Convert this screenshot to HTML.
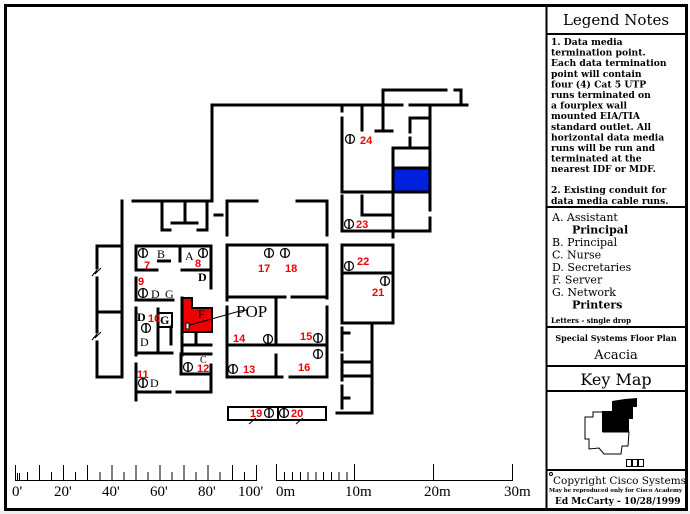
<!DOCTYPE html>
<html><head><meta charset="utf-8"><style>
html,body{margin:0;padding:0;background:#fff;width:690px;height:514px;overflow:hidden}
svg{display:block}
.s{font-family:"Liberation Serif",serif}
.d{font-family:"DejaVu Serif","Liberation Serif",serif}
.r{font-family:"Liberation Sans",sans-serif;font-weight:bold;fill:#e00;font-size:11px}
.l{font-family:"DejaVu Serif","Liberation Serif",serif;font-size:11px}
</style></head><body>
<svg width="690" height="514" viewBox="0 0 690 514" xmlns="http://www.w3.org/2000/svg">
<rect x="0" y="511" width="690" height="3" fill="#eee"/>
<rect x="5.5" y="5.5" width="681" height="504" fill="none" stroke="#000" stroke-width="3"/>
<line x1="546.5" y1="5" x2="546.5" y2="510" stroke="#000" stroke-width="2"/>
<g stroke="#000" stroke-width="2">
<line x1="546" y1="34" x2="687" y2="34"/>
<line x1="546" y1="207" x2="687" y2="207"/>
<line x1="546" y1="327" x2="687" y2="327"/>
<line x1="546" y1="366" x2="687" y2="366"/>
<line x1="546" y1="391" x2="687" y2="391"/>
<line x1="546" y1="470" x2="687" y2="470"/>
</g>
<text x="616" y="25" text-anchor="middle" class="d" font-size="15">Legend Notes</text>
<g class="d" font-size="9.2" font-weight="bold">
<text x="551" y="45">1. Data media</text>
<text x="551" y="55.6">termination point.</text>
<text x="551" y="66.2">Each data termination</text>
<text x="551" y="76.8">point will contain</text>
<text x="551" y="87.4">four (4) Cat 5 UTP</text>
<text x="551" y="98">runs terminated on</text>
<text x="551" y="108.6">a fourplex wall</text>
<text x="551" y="119.2">mounted EIA/TIA</text>
<text x="551" y="129.8">standard outlet. All</text>
<text x="551" y="140.4">horizontal data media</text>
<text x="551" y="151">runs will be run and</text>
<text x="551" y="161.6">terminated at the</text>
<text x="551" y="172.2">nearest IDF or MDF.</text>
<text x="551" y="193">2. Existing conduit for</text>
<text x="551" y="204">data media cable runs.</text>
</g>
<g class="l">
<text x="552" y="221">A.  Assistant</text>
<text x="572" y="233.5" font-weight="bold">Principal</text>
<text x="552" y="246">B.  Principal</text>
<text x="552" y="258.5">C.  Nurse</text>
<text x="552" y="271">D.  Secretaries</text>
<text x="552" y="283.5">F.  Server</text>
<text x="552" y="296">G.  Network</text>
<text x="572" y="308.5" font-weight="bold">Printers</text>
</g>
<text x="551" y="323" class="d" font-size="7" font-weight="bold">Letters  -  single drop</text>
<text x="616" y="341" text-anchor="middle" class="d" font-size="8" font-weight="bold">Special Systems Floor Plan</text>
<text x="616" y="359" text-anchor="middle" class="d" font-size="13">Acacia</text>
<text x="616" y="385" text-anchor="middle" class="d" font-size="16">Key Map</text>
<polygon points="585,417 593,417 593,412 603,412 603,432 629,432 628,446 622,446 621,454 604,454 599,448 589,449 589,439 585,439" fill="#fff" stroke="#000" stroke-width="1"/>
<polygon points="602,411 612,411 612,401 625,399 637,398 637,407 633,407 633,419 629,419 629,432 602,432" fill="#000"/>
<g fill="none" stroke="#000" stroke-width="1"><rect x="626.5" y="459.5" width="5" height="7"/><rect x="632.5" y="459.5" width="5" height="7"/><rect x="638.5" y="459.5" width="5" height="7"/></g>
<circle cx="551" cy="474" r="1.5" fill="none" stroke="#000"/>
<text x="553" y="484" class="d" font-size="10.5">Copyright Cisco Systems</text>
<text x="549" y="492" class="d" font-size="5.5" font-weight="bold">May be reproduced only for Cisco Academy</text>
<text x="555" y="504" class="d" font-size="9" font-weight="bold">Ed McCarty  -  10/28/1999</text>
<g stroke="#000" stroke-width="1">
<line x1="15" y1="480.5" x2="257" y2="480.5"/>
<line x1="15.5" y1="465" x2="15.5" y2="480"/><line x1="39.5" y1="465" x2="39.5" y2="480"/><line x1="63.5" y1="465" x2="63.5" y2="480"/><line x1="87.5" y1="465" x2="87.5" y2="480"/><line x1="112" y1="465" x2="112" y2="480"/><line x1="136" y1="465" x2="136" y2="480"/><line x1="160" y1="465" x2="160" y2="480"/><line x1="184" y1="465" x2="184" y2="480"/><line x1="208" y1="465" x2="208" y2="480"/><line x1="232.5" y1="465" x2="232.5" y2="480"/><line x1="256.5" y1="465" x2="256.5" y2="480"/>
<line x1="27.5" y1="472" x2="27.5" y2="480"/><line x1="51.5" y1="472" x2="51.5" y2="480"/><line x1="75.5" y1="472" x2="75.5" y2="480"/><line x1="100" y1="472" x2="100" y2="480"/><line x1="124" y1="472" x2="124" y2="480"/><line x1="148" y1="472" x2="148" y2="480"/><line x1="172" y1="472" x2="172" y2="480"/><line x1="196" y1="472" x2="196" y2="480"/><line x1="220" y1="472" x2="220" y2="480"/><line x1="244.5" y1="472" x2="244.5" y2="480"/>
<line x1="17.5" y1="473" x2="17.5" y2="480"/><line x1="19.5" y1="473" x2="19.5" y2="480"/>
<line x1="276" y1="480.5" x2="513" y2="480.5"/>
<line x1="276.5" y1="464" x2="276.5" y2="480"/><line x1="354.5" y1="464" x2="354.5" y2="480"/><line x1="433.5" y1="464" x2="433.5" y2="480"/><line x1="512.5" y1="464" x2="512.5" y2="480"/>
<line x1="284.5" y1="472" x2="284.5" y2="480"/><line x1="292.5" y1="472" x2="292.5" y2="480"/><line x1="300.5" y1="472" x2="300.5" y2="480"/><line x1="308" y1="472" x2="308" y2="480"/><line x1="316" y1="472" x2="316" y2="480"/><line x1="323.5" y1="472" x2="323.5" y2="480"/><line x1="331.5" y1="472" x2="331.5" y2="480"/><line x1="339" y1="472" x2="339" y2="480"/><line x1="347" y1="472" x2="347" y2="480"/>
</g>
<g class="s" font-size="15">
<text x="12" y="496">0'</text><text x="54" y="496">20'</text><text x="102" y="496">40'</text><text x="150" y="496">60'</text><text x="198" y="496">80'</text><text x="238" y="496">100'</text>
<text x="276" y="496">0m</text><text x="345" y="496">10m</text><text x="424" y="496">20m</text><text x="504" y="496">30m</text>
</g>
<polygon points="182,298 192,298 192,308 212,308 212,332 182,332" fill="#e00" stroke="#000" stroke-width="2"/>
<rect x="393" y="168" width="37" height="24" fill="#0020e0"/>
<g stroke="#000" stroke-width="3" fill="none" stroke-linecap="square">
<line x1="212" y1="105" x2="402" y2="105"/><line x1="410" y1="105" x2="467" y2="105"/>
<line x1="212" y1="105" x2="212" y2="201"/>
<line x1="383" y1="90" x2="446" y2="90"/><line x1="455" y1="90" x2="461" y2="90"/><line x1="461" y1="90" x2="461" y2="104"/>
<line x1="383" y1="90" x2="383" y2="130"/><line x1="362" y1="105" x2="362" y2="130"/><line x1="376" y1="131" x2="392" y2="131"/>
<line x1="133" y1="201" x2="212" y2="201"/><line x1="227" y1="201" x2="257" y2="201"/><line x1="297" y1="201" x2="327" y2="201"/>
<line x1="215" y1="215" x2="222" y2="215"/>
<line x1="227" y1="201" x2="227" y2="235"/><line x1="327" y1="201" x2="327" y2="235"/>
<line x1="162" y1="201" x2="162" y2="229"/><line x1="162" y1="230" x2="170" y2="230"/>
<line x1="172" y1="223" x2="197" y2="223"/><line x1="185" y1="201" x2="185" y2="223"/>
<line x1="207" y1="201" x2="207" y2="230"/><line x1="198" y1="230" x2="207" y2="230"/>
<line x1="122" y1="201" x2="122" y2="377"/>
<line x1="97" y1="246" x2="122" y2="246"/><line x1="97" y1="312" x2="122" y2="312"/><line x1="97" y1="377" x2="122" y2="377"/>
<line x1="97" y1="246" x2="97" y2="268"/><line x1="97" y1="278" x2="97" y2="332"/><line x1="97" y1="342" x2="97" y2="377"/>
<line x1="136" y1="246" x2="211" y2="246"/>
<line x1="136" y1="246" x2="136" y2="270"/><line x1="136" y1="278" x2="136" y2="300"/><line x1="136" y1="308" x2="136" y2="355"/><line x1="136" y1="364" x2="136" y2="400"/>
<line x1="136" y1="270" x2="157" y2="270"/><line x1="182" y1="270" x2="211" y2="270"/>
<line x1="180" y1="246" x2="180" y2="261"/>
<line x1="211" y1="246" x2="211" y2="288"/>
<line x1="136" y1="300" x2="173" y2="300"/>
<line x1="182" y1="298" x2="182" y2="355"/><line x1="196" y1="333" x2="196" y2="345"/><line x1="182" y1="345" x2="211" y2="345"/>
<line x1="158" y1="309" x2="158" y2="353"/><line x1="171" y1="327" x2="171" y2="344"/>
<line x1="136" y1="353" x2="172" y2="353"/>
<line x1="181" y1="354" x2="211" y2="354"/><line x1="181" y1="354" x2="181" y2="374"/><line x1="181" y1="374" x2="211" y2="374"/>
<line x1="211" y1="365" x2="211" y2="392"/>
<line x1="136" y1="392" x2="170" y2="392"/><line x1="177" y1="392" x2="211" y2="392"/>
<line x1="227" y1="245" x2="327" y2="245"/>
<line x1="227" y1="245" x2="227" y2="300"/><line x1="227" y1="307" x2="227" y2="377"/>
<line x1="327" y1="245" x2="327" y2="298"/><line x1="327" y1="307" x2="327" y2="377"/>
<line x1="227" y1="297" x2="285" y2="297"/><line x1="292" y1="297" x2="327" y2="297"/>
<line x1="276" y1="297" x2="276" y2="345"/>
<line x1="227" y1="345" x2="327" y2="345"/>
<line x1="227" y1="377" x2="282" y2="377"/><line x1="290" y1="377" x2="327" y2="377"/>
<line x1="276" y1="355" x2="276" y2="377"/>
<line x1="342" y1="107" x2="342" y2="111"/><line x1="342" y1="118" x2="342" y2="192"/><line x1="342" y1="196" x2="342" y2="230"/>
<line x1="342" y1="245" x2="342" y2="322"/><line x1="342" y1="328" x2="342" y2="350"/><line x1="342" y1="355" x2="342" y2="380"/><line x1="342" y1="386" x2="342" y2="408"/>
<line x1="342" y1="192" x2="430" y2="192"/>
<line x1="393" y1="168" x2="430" y2="168"/><line x1="393" y1="148" x2="430" y2="148"/>
<line x1="393" y1="148" x2="393" y2="237"/><line x1="393" y1="245" x2="393" y2="322"/>
<line x1="410" y1="118" x2="430" y2="118"/><line x1="410" y1="118" x2="410" y2="132"/><line x1="410" y1="138" x2="410" y2="147"/>
<line x1="430" y1="105" x2="430" y2="210"/><line x1="430" y1="218" x2="430" y2="231"/>
<line x1="342" y1="231" x2="430" y2="231"/>
<line x1="362" y1="196" x2="362" y2="215"/><line x1="362" y1="215" x2="392" y2="215"/>
<line x1="342" y1="245" x2="393" y2="245"/><line x1="342" y1="273" x2="393" y2="273"/><line x1="342" y1="323" x2="393" y2="323"/>
<line x1="372" y1="323" x2="372" y2="413"/><line x1="337" y1="413" x2="372" y2="413"/>
<line x1="342" y1="362" x2="372" y2="362"/><line x1="342" y1="376" x2="372" y2="376"/>
<line x1="342" y1="333" x2="349" y2="333"/><line x1="342" y1="398" x2="349" y2="398"/>
</g>
<g stroke="#000" stroke-width="2" fill="none">
<rect x="228" y="407" width="98" height="13"/><line x1="278" y1="407" x2="278" y2="420"/>
<rect x="158" y="313" width="14" height="14"/>
<line x1="157" y1="261" x2="171" y2="261" stroke-width="3"/>
</g>
<g stroke="#000" stroke-width="1" fill="none">
<polyline points="92,276 97,270 95,274 101,268"/><polyline points="92,340 97,334 95,338 101,332"/>
<line x1="249" y1="424" x2="256" y2="418"/><line x1="296" y1="424" x2="303" y2="418"/>
<line x1="190" y1="325" x2="240" y2="311"/><line x1="240" y1="311" x2="247" y2="310"/>
</g>
<rect x="186" y="323" width="3" height="6" fill="#fff" stroke="#000" stroke-width="1"/>
<g fill="#fff" stroke="#000" stroke-width="1.2">
<circle cx="143" cy="253" r="4.5"/><circle cx="203" cy="253" r="4.5"/><circle cx="143" cy="293" r="4.5"/><circle cx="146" cy="328" r="4.5"/><circle cx="143" cy="383" r="4.5"/><circle cx="188" cy="367" r="4.5"/><circle cx="233" cy="369" r="4.5"/><circle cx="268" cy="339" r="4.5"/><circle cx="318" cy="338" r="4.5"/><circle cx="318" cy="354" r="4.5"/><circle cx="269" cy="253" r="4.5"/><circle cx="285" cy="253" r="4.5"/><circle cx="269" cy="413" r="4.5"/><circle cx="284" cy="413" r="4.5"/><circle cx="385" cy="281" r="4.5"/><circle cx="349" cy="266" r="4.5"/><circle cx="349" cy="224" r="4.5"/><circle cx="350" cy="139" r="4.5"/>
</g>
<g stroke="#000" stroke-width="1.5">
<line x1="143" y1="248" x2="143" y2="258"/><line x1="203" y1="248" x2="203" y2="258"/><line x1="143" y1="288" x2="143" y2="298"/><line x1="146" y1="323" x2="146" y2="333"/><line x1="143" y1="378" x2="143" y2="388"/><line x1="188" y1="362" x2="188" y2="372"/><line x1="233" y1="364" x2="233" y2="374"/><line x1="268" y1="334" x2="268" y2="344"/><line x1="318" y1="333" x2="318" y2="343"/><line x1="318" y1="349" x2="318" y2="359"/><line x1="269" y1="248" x2="269" y2="258"/><line x1="285" y1="248" x2="285" y2="258"/><line x1="269" y1="408" x2="269" y2="418"/><line x1="284" y1="408" x2="284" y2="418"/><line x1="385" y1="276" x2="385" y2="286"/><line x1="349" y1="261" x2="349" y2="271"/><line x1="349" y1="219" x2="349" y2="229"/><line x1="350" y1="134" x2="350" y2="144"/>
</g>
<g class="s" font-size="12">
<text x="157" y="258">B</text><text x="185" y="260">A</text><text x="198" y="281" font-weight="bold">D</text>
<text x="151" y="298">D</text><text x="165" y="298">G</text>
<text x="137" y="321" font-weight="bold">D</text><text x="160" y="324" font-weight="bold">G</text><text x="140" y="346">D</text>
<text x="150" y="387">D</text><text x="198" y="318">F</text><text x="200" y="363" font-size="10">C</text>
<text x="236" y="317" font-size="17">POP</text>
</g>
<g class="r">
<text x="144" y="269">7</text><text x="195" y="267">8</text><text x="138" y="285">9</text><text x="148" y="322">10</text><text x="137" y="378">11</text><text x="197" y="372">12</text><text x="243" y="373">13</text><text x="233" y="342">14</text><text x="300" y="340">15</text><text x="298" y="371">16</text><text x="258" y="272">17</text><text x="285" y="272">18</text><text x="250" y="417">19</text><text x="291" y="417">20</text><text x="372" y="296">21</text><text x="357" y="265">22</text><text x="356" y="228">23</text><text x="360" y="144">24</text>
</g>
</svg>
</body></html>
